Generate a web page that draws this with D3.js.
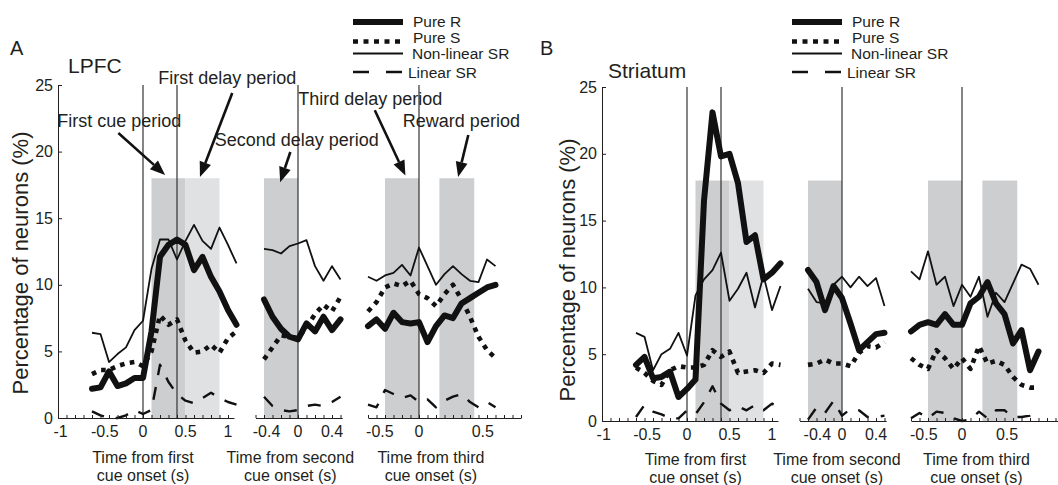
<!DOCTYPE html>
<html>
<head>
<meta charset="utf-8">
<script src="https://cdn.jsdelivr.net/npm/d3@7"></script>
<style>
  body { margin: 0; background: #fff; }
  svg text { font-family: "Liberation Sans", Arial, sans-serif; fill: #231f20; }
</style>
</head>
<body>
<svg id="chart" width="1058" height="485"></svg>
<script>
// time bins (s) for the three epochs
const timeFirst = [-0.6, -0.5, -0.4, -0.3, -0.2, -0.1, 0, 0.1, 0.2, 0.3, 0.4, 0.5, 0.6, 0.7, 0.8, 0.9, 1.0, 1.1];
const timeSecond = [-0.4, -0.3, -0.2, -0.1, 0, 0.1, 0.2, 0.3, 0.4, 0.5];
const timeThird = [-0.6, -0.5, -0.4, -0.3, -0.2, -0.1, 0, 0.1, 0.2, 0.3, 0.4, 0.5, 0.6, 0.7, 0.8, 0.9];

// LPFC (%)
const lpfcFirstPureR = [2.2, 2.3, 3.5, 2.4, 2.6, 3.0, 3.0, 6.5, 12.1, 13.0, 13.4, 13.0, 11.1, 12.1, 10.6, 9.5, 8.1, 7.0];
const lpfcFirstPureS = [3.3, 3.6, 3.6, 3.9, 4.1, 4.2, 3.9, 5.0, 7.7, 7.0, 7.4, 5.8, 4.9, 5.0, 5.5, 4.9, 6.0, 6.5];
const lpfcFirstNonlin = [6.4, 6.3, 4.2, 4.8, 5.3, 6.6, 7.3, 11.2, 13.4, 13.4, 11.9, 13.3, 14.5, 13.3, 12.7, 14.3, 13.0, 11.6];
const lpfcFirstLinear = [0.5, 0.2, 0.0, 0.0, 0.2, 0.6, 0.3, 0.6, 4.0, 2.7, 1.8, 1.3, 1.1, 1.5, 1.9, 1.5, 1.2, 1.0];

const lpfcSecondPureR = [8.9, 7.6, 6.7, 6.1, 5.9, 7.1, 6.5, 7.6, 6.6, 7.4];
const lpfcSecondPureS = [4.4, 5.3, 6.2, 6.1, 6.0, 6.8, 7.8, 8.5, 8.0, 9.1];
const lpfcSecondNonlin = [12.7, 12.6, 12.35, 12.9, 13.1, 13.35, 11.4, 10.3, 11.4, 10.4];
const lpfcSecondLinear = [1.6, 0.9, 0.6, 0.5, 0.6, 0.9, 1.0, 0.9, 1.2, 1.6];

const lpfcThirdPureR = [6.9, 7.4, 6.7, 7.9, 7.2, 7.1, 7.2, 5.7, 6.9, 7.7, 7.5, 8.6, 9.0, 9.4, 9.8, 10.0];
const lpfcThirdPureS = [8.0, 8.7, 9.8, 10.1, 9.9, 10.3, 9.3, 9.0, 8.4, 9.3, 10.0, 8.9, 7.6, 6.1, 5.1, 4.5];
const lpfcThirdNonlin = [10.6, 10.3, 10.7, 10.9, 11.5, 10.7, 12.8, 11.4, 10.0, 10.8, 11.4, 10.8, 10.3, 10.2, 11.9, 11.4];
const lpfcThirdLinear = [1.0, 0.8, 2.1, 1.8, 1.5, 1.7, 1.2, 1.4, 0.8, 1.3, 1.6, 1.8, 1.2, 0.8, 1.2, 0.8];

// Striatum (%)
const strFirstPureR = [4.2, 4.8, 3.2, 3.3, 3.7, 1.8, 2.4, 3.1, 16.5, 23.1, 19.8, 20.0, 17.8, 13.4, 13.9, 10.6, 11.1, 11.8];
const strFirstPureS = [4.0, 3.6, 3.0, 2.7, 3.8, 4.1, 4.0, 4.0, 4.2, 5.3, 4.8, 5.2, 3.6, 3.7, 3.8, 3.6, 4.3, 4.2];
const strFirstNonlin = [6.6, 6.3, 3.8, 5.0, 5.4, 6.6, 4.9, 9.4, 10.6, 11.3, 12.6, 9.0, 9.9, 11.1, 8.5, 10.9, 8.3, 10.1];
const strFirstLinear = [0.3, 1.2, 0.7, 0.5, 0.2, 0.2, 0.8, 0.5, 1.4, 2.6, 1.3, 0.8, 1.1, 0.8, 1.2, 0.8, 1.3, 0.9];

const strSecondPureR = [11.3, 10.4, 8.3, 10.1, 9.2, 7.3, 5.3, 5.9, 6.5, 6.6];
const strSecondPureS = [4.2, 4.3, 4.6, 4.3, 4.3, 4.1, 5.1, 5.6, 5.5, 5.9];
const strSecondNonlin = [9.9, 8.9, 8.8, 10.2, 10.8, 10.0, 10.8, 10.1, 10.7, 8.6];
const strSecondLinear = [0.1, 1.0, 0.6, 1.5, 0.4, 0.9, 0.8, 0.3, 0.3, 0.4];

const strThirdPureR = [6.7, 7.2, 7.4, 7.2, 8.0, 7.2, 7.2, 8.8, 9.3, 10.4, 8.8, 8.0, 5.8, 6.8, 3.8, 5.2];
const strThirdPureS = [4.7, 4.2, 3.9, 5.3, 4.7, 3.9, 4.7, 3.9, 5.6, 4.3, 4.5, 4.2, 3.3, 2.7, 2.5, 2.5];
const strThirdNonlin = [11.2, 10.6, 12.7, 10.2, 10.8, 8.6, 10.2, 9.3, 10.8, 7.8, 9.6, 8.9, 10.3, 11.7, 11.4, 10.2];
const strThirdLinear = [0.2, 0.6, 0.2, 0.7, 0.6, 0.2, 0.0, 0.1, 0.7, 0.2, 0.8, 0.8, 0.3, 0.3, 0.4, 0.6];

// task periods (s), reference lines, tick labels
const shadeFirst = [[0.1, 0.5, 'dark'], [0.5, 0.9, 'light']];
const shadeSecond = [[-0.4, 0, 'dark']];
const shadeThird = [[-0.4, 0, 'dark'], [0.24, 0.65, 'dark']];
const shadeTop = 18;
const refFirst = [0, 0.4];
const refSecond = [0];
const refThird = [0];
const yTicks = [0, 5, 10, 15, 20, 25];
const tickTextFirst = ['-1', '-0.5', '0', '0.5', '1'];
const tickTextSecond = ['-0.4', '0', '0.4'];
const tickTextThird = ['-0.5', '0', '0.5'];
const tickAtA = [[-0.97, -0.45, 0, 0.5, 1], [-0.37, 0, 0.4], [-0.46, 0, 0.75]];
const tickAtB = [[-0.98, -0.47, 0, 0.5, 1], [-0.29, 0, 0.4], [-0.45, 0, 0.53]];
const xLabelTop = ['Time from first', 'Time from second', 'Time from third'];
const xLabelBottom = 'cue onset (s)';
const legendLabels = ['Pure R', 'Pure S', 'Non-linear SR', 'Linear SR'];
const legendKeys = ['pureR', 'pureS', 'nonlin', 'linear'];

// annotations of panel A: text spot, arrow tail, arrow tip, in (s, %) of an epoch
const notes = [
  {text: 'First cue period', ep: 0, at: [-1.01, 21.85], from: [-0.29, 21.4], to: [0.26, 18.25]},
  {text: 'First delay period', ep: 0, at: [0.18, 25.07], from: [1.05, 24.4], to: [0.67, 18.1]},
  {text: 'Second delay period', ep: 1, at: [-0.98, 20.4], from: [-0.09, 19.97], to: [-0.21, 17.7]},
  {text: 'Third delay period', ep: 2, at: [-1.42, 23.5], from: [-0.52, 23.1], to: [-0.16, 18.2]},
  {text: 'Reward period', ep: 2, at: [-0.19, 21.85], from: [0.58, 21.25], to: [0.46, 18.1]}
];

const sec = 85;
const epochDomains = [[-1, 1.07], [-0.5, 0.52], [-0.6, 1.2]];
const times = [timeFirst, timeSecond, timeThird];
const shades = [shadeFirst, shadeSecond, shadeThird];
const refs = [refFirst, refSecond, refThird];
const tickTexts = [tickTextFirst, tickTextSecond, tickTextThird];
const shadeColor = {dark: '#cdcecf', light: '#e0e1e2'};
const ink = '#111';
const styles = {
  nonlin: {w: 1.8, dash: null, cap: 'butt'},
  linear: {w: 2.4, dash: '13,12', cap: 'butt'},
  pureS: {w: 4.6, dash: '4.6,5.4', cap: 'butt'},
  pureR: {w: 6, dash: null, cap: 'round'}
};
const drawOrder = ['nonlin', 'linear', 'pureS', 'pureR'];

const panels = [
  {
    letter: 'A', region: 'LPFC', letterX: 10, regionX: 68, regionY: 73,
    yZero: 418, yTop: 85, zeros: [143, 298, 419], tickAt: tickAtA,
    labelShift: [0, -0.09, 0.14], labelY: 463, yLabelX: 20, yLabelY: 263, legendDx: 0,
    series: [
      {pureR: lpfcFirstPureR, pureS: lpfcFirstPureS, nonlin: lpfcFirstNonlin, linear: lpfcFirstLinear},
      {pureR: lpfcSecondPureR, pureS: lpfcSecondPureS, nonlin: lpfcSecondNonlin, linear: lpfcSecondLinear},
      {pureR: lpfcThirdPureR, pureS: lpfcThirdPureS, nonlin: lpfcThirdNonlin, linear: lpfcThirdLinear}
    ]
  },
  {
    letter: 'B', region: 'Striatum', letterX: 540, regionX: 608, regionY: 78,
    yZero: 421, yTop: 87, zeros: [687, 842, 962], tickAt: tickAtB,
    labelShift: [0.1, -0.06, 0.17], labelY: 465, yLabelX: 567, yLabelY: 270, legendDx: 439,
    series: [
      {pureR: strFirstPureR, pureS: strFirstPureS, nonlin: strFirstNonlin, linear: strFirstLinear},
      {pureR: strSecondPureR, pureS: strSecondPureS, nonlin: strSecondNonlin, linear: strSecondLinear},
      {pureR: strThirdPureR, pureS: strThirdPureS, nonlin: strThirdNonlin, linear: strThirdLinear}
    ]
  }
];

const svg = d3.select('#chart');

function arrow(g, x1, y1, x2, y2) {
  const ang = Math.atan2(y2 - y1, x2 - x1), L = 15, W = 6;
  const bx = x2 - L * Math.cos(ang), by = y2 - L * Math.sin(ang);
  g.append('line')
    .attr('x1', x1).attr('y1', y1).attr('x2', bx).attr('y2', by)
    .attr('stroke', ink).attr('stroke-width', 2.6);
  g.append('path')
    .attr('d', `M${x2},${y2}L${bx + W * Math.sin(ang)},${by - W * Math.cos(ang)}L${bx - W * Math.sin(ang)},${by + W * Math.cos(ang)}Z`)
    .attr('fill', ink);
}

function drawPanel(p) {
  const y = d3.scaleLinear().domain([0, 25]).range([p.yZero, p.yTop]);
  const xs = [];

  p.series.forEach((ser, i) => {
    const dom = epochDomains[i];
    const zero = p.zeros[i];
    const x = d3.scaleLinear().domain(dom).range([zero + dom[0] * sec, zero + dom[1] * sec]);
    xs.push(x);
    const g = svg.append('g');

    g.selectAll('rect.shade')
      .data(shades[i])
      .enter().append('rect')
      .attr('x', d => x(d[0]))
      .attr('width', d => x(d[1]) - x(d[0]))
      .attr('y', y(shadeTop))
      .attr('height', y(0) - y(shadeTop))
      .attr('fill', d => shadeColor[d[2]]);

    g.selectAll('line.ref')
      .data(refs[i])
      .enter().append('line')
      .attr('x1', d => x(d)).attr('x2', d => x(d))
      .attr('y1', y(25)).attr('y2', y(0))
      .attr('stroke', '#333').attr('stroke-width', 1.2);

    drawOrder.forEach(k => {
      const st = styles[k];
      const pts = times[i].map((t, j) => [t, ser[k][j]]);
      g.append('path')
        .datum(pts)
        .attr('fill', 'none')
        .attr('stroke', ink)
        .attr('stroke-width', st.w)
        .attr('stroke-linejoin', 'round')
        .attr('stroke-linecap', st.cap)
        .attr('stroke-dasharray', st.dash)
        .attr('d', d3.line().x(d => x(d[0])).y(d => y(d[1])));
    });

    // x axis with 0.1 s minor ticks pointing inward
    const ticks = d3.range(Math.round(dom[0] * 10), Math.floor(dom[1] * 10 + 1e-6) + 1).map(v => v / 10);
    const ax = g.append('g')
      .attr('transform', 'translate(0,' + y(0) + ')')
      .call(d3.axisBottom(x).tickValues(ticks).tickSize(-3).tickSizeOuter(0).tickFormat(''));
    ax.selectAll('path, line').attr('stroke', '#231f20');

    g.selectAll('text.tick')
      .data(tickTexts[i])
      .enter().append('text')
      .attr('x', (d, j) => x(p.tickAt[i][j]))
      .attr('y', y(0) + 19)
      .attr('text-anchor', 'middle')
      .attr('font-size', 16)
      .text(d => d);

    const lx = x(p.labelShift[i]);
    g.append('text').attr('x', lx).attr('y', p.labelY)
      .attr('text-anchor', 'middle').attr('font-size', 16).text(xLabelTop[i]);
    g.append('text').attr('x', lx).attr('y', p.labelY + 18)
      .attr('text-anchor', 'middle').attr('font-size', 16).text(xLabelBottom);

    if (i === 0) {
      const ay = g.append('g')
        .attr('transform', 'translate(' + x(dom[0]) + ',0)')
        .call(d3.axisLeft(y).tickValues(yTicks).tickSize(-4).tickPadding(5).tickSizeOuter(0));
      ay.selectAll('path, line').attr('stroke', '#231f20');
      ay.selectAll('text')
        .attr('font-size', 16)
        .attr('font-family', '"Liberation Sans", Arial, sans-serif')
        .attr('fill', '#231f20');
    }
  });

  svg.append('text')
    .attr('transform', `translate(${p.yLabelX},${p.yLabelY}) rotate(-90)`)
    .attr('text-anchor', 'middle')
    .attr('dominant-baseline', 'central')
    .attr('font-size', 22)
    .text('Percentage of neurons (%)');

  svg.append('text').attr('x', p.letterX).attr('y', 55).attr('font-size', 20).text(p.letter);
  svg.append('text').attr('x', p.regionX).attr('y', p.regionY).attr('font-size', 21).text(p.region);

  // legend
  const lg = svg.append('g').attr('transform', 'translate(' + p.legendDx + ',0)');
  const rowText = [21, 37.5, 53.5, 72.5];
  const rowLine = [22, 41.5, 53.5, 72];
  const textX = [413, 413, 412, 408];
  legendKeys.forEach((k, j) => {
    const st = styles[k];
    lg.append('line')
      .attr('x1', 353).attr('x2', 403)
      .attr('y1', rowLine[j]).attr('y2', rowLine[j])
      .attr('stroke', ink)
      .attr('stroke-width', st.w)
      .attr('stroke-dasharray', k === 'linear' ? '16,17' : (k === 'pureS' ? '5,5.5' : null));
    lg.append('text')
      .attr('x', textX[j]).attr('y', rowText[j])
      .attr('dominant-baseline', 'central')
      .attr('font-size', 15.5)
      .text(legendLabels[j]);
  });

  return {y, xs};
}

const scalesA = drawPanel(panels[0]);
drawPanel(panels[1]);

// arrows and period names of panel A
const ng = svg.append('g');
notes.forEach(n => {
  const x = scalesA.xs[n.ep], y = scalesA.y;
  ng.append('text').attr('x', x(n.at[0])).attr('y', y(n.at[1]))
    .attr('font-size', 18).text(n.text);
  arrow(ng, x(n.from[0]), y(n.from[1]), x(n.to[0]), y(n.to[1]));
});
</script>
</body>
</html>
